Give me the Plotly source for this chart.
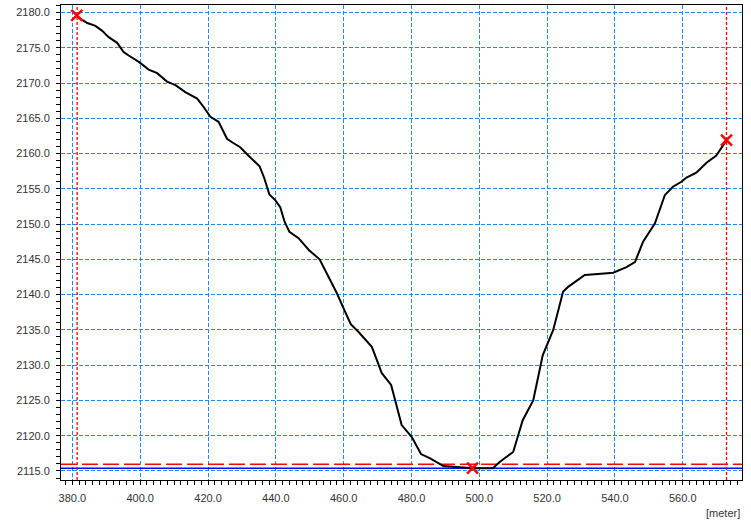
import plotly.graph_objects as go

# Profile data (distance in meters, elevation)
dist = [381.1, 382.4, 384.4, 386.8, 388.8, 390.7, 393.2, 395.1, 396.6, 399.6,
        402.5, 405.0, 407.9, 410.4, 413.3, 416.8, 418.7, 420.7, 423.1, 425.6,
        427.1, 429.5, 431.5, 435.2, 436.6, 438.1, 439.8, 441.3, 442.6, 444.0,
        446.7, 449.8, 452.9, 455.0, 458.0, 460.4, 462.1, 464.4, 466.6, 468.3,
        469.8, 471.2, 474.0, 475.5, 477.1, 480.1, 482.8, 485.5, 487.9, 489.4,
        492.3, 498.2, 504.0, 506.1, 510.0, 512.8, 515.9, 518.7, 521.8, 524.7,
        526.2, 531.1, 534.1, 539.5, 543.4, 545.9, 548.3, 551.8, 554.7, 557.1,
        559.6, 561.1, 564.0, 567.0, 569.9, 572.9]
elev = [2179.6, 2179.1, 2178.5, 2178.1, 2177.4, 2176.5, 2175.7, 2174.4, 2173.9, 2173.0,
        2171.9, 2171.4, 2170.2, 2169.7, 2168.7, 2167.8, 2166.6, 2165.2, 2164.5, 2162.1,
        2161.6, 2160.9, 2159.9, 2158.2, 2156.5, 2154.2, 2153.4, 2152.4, 2150.3, 2148.9,
        2148.0, 2146.3, 2145.0, 2143.0, 2140.2, 2137.6, 2135.8, 2134.7, 2133.6, 2132.6,
        2130.7, 2128.9, 2127.2, 2124.5, 2121.5, 2119.8, 2117.4, 2116.8, 2116.1, 2115.7,
        2115.6, 2115.4, 2115.4, 2116.3, 2117.7, 2122.2, 2125.0, 2131.4, 2135.0, 2140.4,
        2141.1, 2142.8, 2142.9, 2143.1, 2143.9, 2144.6, 2147.5, 2150.1, 2154.1, 2155.3,
        2156.0, 2156.6, 2157.3, 2158.7, 2159.7, 2161.9]

marker_x = [381.3, 498.0, 572.9]
marker_y = [2179.6, 2115.4, 2161.9]

start_x = 381.4
end_x = 572.9
red_level = 2115.95
blue_level = 2115.38

x_range = [376.64, 577.47]
y_range = [2113.72, 2181.06]

x_ticks = [380, 400, 420, 440, 460, 480, 500, 520, 540, 560]
y_ticks = [2115, 2120, 2125, 2130, 2135, 2140, 2145, 2150, 2155, 2160, 2165, 2170, 2175, 2180]

fig = go.Figure()

# reference lines
fig.add_trace(go.Scatter(x=x_range, y=[red_level, red_level], mode="lines",
                         line=dict(color="#FF0000", width=1.3, dash="16px,5px"),
                         hoverinfo="skip", showlegend=False))
fig.add_trace(go.Scatter(x=x_range, y=[blue_level, blue_level], mode="lines",
                         line=dict(color="#0000FF", width=1.5),
                         hoverinfo="skip", showlegend=False))
for vx in [start_x, end_x]:
    fig.add_trace(go.Scatter(x=[vx, vx], y=y_range, mode="lines",
                             line=dict(color="#FF0000", width=1.3, dash="3px,2px"),
                             hoverinfo="skip", showlegend=False))

fig.add_trace(go.Scatter(x=dist, y=elev, mode="lines",
                         line=dict(color="black", width=2),
                         showlegend=False))

fig.add_trace(go.Scatter(x=marker_x, y=marker_y, mode="markers",
                         marker=dict(symbol="x-thin", size=11,
                                     line=dict(color="#FF0000", width=2.5)),
                         showlegend=False))

axis_common = dict(
    showline=True, linecolor="black", linewidth=1, mirror=True,
    ticks="outside", ticklen=4, tickcolor="black", tickwidth=1,
    showgrid=True, gridcolor="#1E88FF", griddash="4px,2px", gridwidth=1,
    zeroline=False, automargin=False,
    tickfont=dict(family="Liberation Sans, Arial, sans-serif", size=11, color="#333333"),
    ticklabelstandoff=4,
)

fig.update_xaxes(range=x_range, tickvals=x_ticks,
                 ticktext=[f"{v:.1f}" for v in x_ticks],
                 minor=dict(dtick=2, tick0=380, ticks="outside", ticklen=4,
                            tickcolor="black", showgrid=False),
                 **axis_common)
fig.update_yaxes(range=y_range, tickvals=y_ticks,
                 ticktext=[f"{v:.1f}" for v in y_ticks],
                 minor=dict(dtick=1, tick0=2115, ticks="outside", ticklen=4,
                            tickcolor="black", showgrid=False),
                 **axis_common)

fig.add_annotation(text="[meter]", xref="paper", yref="paper", x=1.0, y=0,
                   xanchor="right", yanchor="top", yshift=-25, showarrow=False,
                   font=dict(family="Liberation Sans, Arial, sans-serif", size=11, color="#333333"))

fig.update_layout(
    width=751, height=523,
    margin=dict(l=61, r=9, t=5, b=43, autoexpand=False),
    paper_bgcolor="white", plot_bgcolor="white",
)

fig.write_html("out.html", config={"displayModeBar": False},
               post_script="document.body.style.margin='0';document.body.style.padding='0';")
